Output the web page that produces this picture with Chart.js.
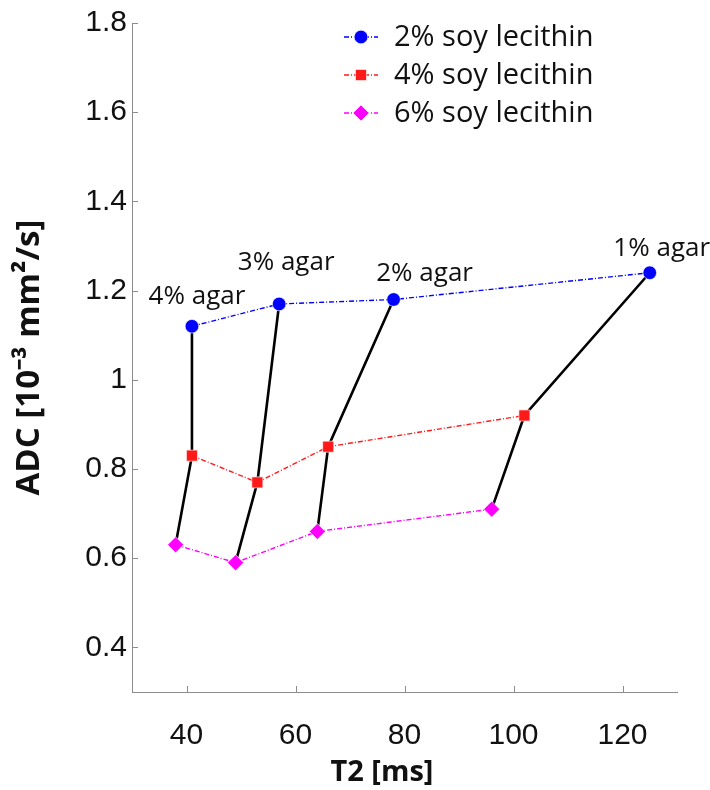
<!DOCTYPE html>
<html>
<head>
<meta charset="utf-8">
<script src="https://cdn.jsdelivr.net/npm/chart.js@4"></script>
<style>
  html, body { margin: 0; padding: 0; background: #fff; }
</style>
</head>
<body>
<canvas id="adcChart" width="710" height="790"></canvas>
<script>
// --- DATA ---
const seriesNames = ['2% soy lecithin', '4% soy lecithin', '6% soy lecithin'];
const agarLabels = ['4% agar', '3% agar', '2% agar', '1% agar'];

const t2Soy2 = [41, 57, 78, 125];
const adcSoy2 = [1.12, 1.17, 1.18, 1.24];
const t2Soy4 = [41, 53, 66, 102];
const adcSoy4 = [0.83, 0.77, 0.85, 0.92];
const t2Soy6 = [38, 49, 64, 96];
const adcSoy6 = [0.63, 0.59, 0.66, 0.71];

const xTicks = [40, 60, 80, 100, 120];
const yTicks = [0.4, 0.6, 0.8, 1, 1.2, 1.4, 1.6, 1.8];

const toPoints = (xs, ys) => xs.map((x, i) => ({ x: x, y: ys[i] }));

const axisGray = '#8c8c8c';

// colored series
const series = [
  { label: seriesNames[0], data: toPoints(t2Soy2, adcSoy2), color: '#0000ff', pointStyle: 'circle', radius: 6.8 },
  { label: seriesNames[1], data: toPoints(t2Soy4, adcSoy4), color: '#ff1a1a', pointStyle: 'rect', radius: 7.8 },
  { label: seriesNames[2], data: toPoints(t2Soy6, adcSoy6), color: '#ff00ff', pointStyle: 'rectRot', radius: 8 }
];

const datasets = series.map((s, i) => ({
  label: s.label,
  data: s.data,
  showLine: true,
  borderColor: s.color,
  borderWidth: 1.4,
  borderDash: [5, 2, 1, 2],
  pointStyle: s.pointStyle,
  pointRadius: s.radius,
  pointBackgroundColor: s.color,
  pointBorderColor: 'rgba(255,255,255,0.6)',
  pointBorderWidth: 1,
  order: i
}));

// black lines joining the same agar concentration
agarLabels.forEach((name, i) => {
  datasets.push({
    label: name,
    data: [
      { x: t2Soy2[i], y: adcSoy2[i] },
      { x: t2Soy4[i], y: adcSoy4[i] },
      { x: t2Soy6[i], y: adcSoy6[i] }
    ],
    showLine: true,
    borderColor: '#000',
    borderWidth: 2.6,
    pointRadius: 0,
    order: 10
  });
});

// label offsets (px) from the 2% soy lecithin point of each column
const agarOffsets = [[5, -30], [7, -41], [31, -26], [12, -24]];

const decorPlugin = {
  id: 'decor',
  afterDraw(chart) {
    const { ctx, scales: { x, y }, chartArea } = chart;
    ctx.save();

    // ticks pointing inward
    ctx.strokeStyle = axisGray;
    ctx.lineWidth = 1;
    ctx.beginPath();
    xTicks.forEach(v => {
      const px = Math.round(x.getPixelForValue(v)) + 0.5;
      ctx.moveTo(px, chartArea.bottom);
      ctx.lineTo(px, chartArea.bottom - 6);
    });
    yTicks.forEach(v => {
      const py = Math.round(y.getPixelForValue(v)) + 0.5;
      ctx.moveTo(chartArea.left, py);
      ctx.lineTo(chartArea.left + 6, py);
    });
    ctx.stroke();

    // agar labels
    ctx.fillStyle = '#111';
    ctx.font = '26px "Open Sans"';
    ctx.textAlign = 'center';
    ctx.textBaseline = 'middle';
    agarLabels.forEach((name, i) => {
      const px = x.getPixelForValue(t2Soy2[i]) + agarOffsets[i][0];
      const py = y.getPixelForValue(adcSoy2[i]) + agarOffsets[i][1];
      ctx.fillText(name, px, py);
    });

    // legend
    const rowY = [37, 75, 113];
    series.forEach((s, i) => {
      ctx.strokeStyle = s.color;
      ctx.lineWidth = 1.4;
      ctx.setLineDash([5, 2, 1, 2]);
      ctx.beginPath();
      ctx.moveTo(344, rowY[i]);
      ctx.lineTo(378, rowY[i]);
      ctx.stroke();
      ctx.setLineDash([]);
      ctx.fillStyle = s.color;
      ctx.strokeStyle = 'rgba(255,255,255,0.6)';
      ctx.lineWidth = 1;
      Chart.helpers.drawPoint(ctx, { pointStyle: s.pointStyle, radius: s.radius, rotation: 0, borderWidth: 1 }, 361, rowY[i]);
      ctx.fillStyle = '#111';
      ctx.font = '29px "Open Sans"';
      ctx.textAlign = 'left';
      ctx.textBaseline = 'middle';
      ctx.fillText(s.label, 394, rowY[i] + 1);
    });

    ctx.restore();
  }
};

const ctx = document.getElementById('adcChart').getContext('2d');
new Chart(ctx, {
  type: 'scatter',
  data: { datasets: datasets },
  options: {
    responsive: false,
    animation: false,
    layout: { padding: { left: 0, top: 21, right: 33, bottom: 0 } },
    plugins: {
      legend: { display: false },
      tooltip: { enabled: false }
    },
    scales: {
      x: {
        type: 'linear',
        min: 30,
        max: 130,
        afterBuildTicks: scale => { scale.ticks = xTicks.map(v => ({ value: v })); },
        afterFit: scale => { scale.height = 98; },
        grid: { display: false, drawTicks: false },
        border: { display: true, color: axisGray, width: 1 },
        ticks: {
          padding: 26,
          color: '#111',
          font: { family: '"Liberation Sans", Arial, sans-serif', size: 30 },
          callback: v => String(v)
        },
        title: {
          display: true,
          // trailing spaces nudge the centred title left, as in the figure
          text: 'T2 [ms]\u00a0\u00a0\u00a0\u00a0\u00a0\u00a0',
          color: '#111',
          padding: { top: 0, bottom: 0 },
          font: { family: '"Open Sans"', size: 29, weight: 'bold' }
        }
      },
      y: {
        type: 'linear',
        min: 0.3,
        max: 1.8,
        afterBuildTicks: scale => { scale.ticks = yTicks.map(v => ({ value: v })); },
        afterFit: scale => { scale.width = 132; },
        grid: { display: false, drawTicks: false },
        border: { display: true, color: axisGray, width: 1 },
        ticks: {
          padding: 5,
          color: '#111',
          font: { family: '"Liberation Sans", Arial, sans-serif', size: 30 },
          callback: v => String(v)
        },
        title: {
          display: true,
          text: 'ADC [10⁻³ mm²/s]',
          color: '#111',
          padding: { top: 10, bottom: 0 },
          font: { family: '"Open Sans"', size: 33, weight: 'bold' }
        }
      }
    }
  },
  plugins: [decorPlugin]
});
</script>
</body>
</html>
